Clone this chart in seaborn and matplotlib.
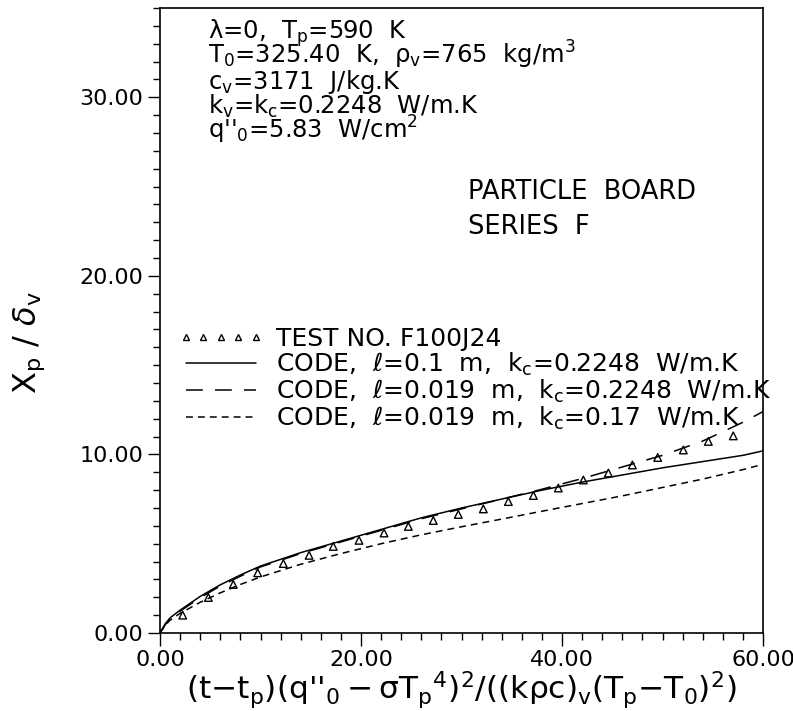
import matplotlib
matplotlib.use("Agg")
import matplotlib.pyplot as plt
from matplotlib.lines import Line2D
from matplotlib.ticker import MultipleLocator, FixedLocator, FixedFormatter
import seaborn as sns
import pandas as pd

# ---- data ----
test_x = [2.26, 4.81, 7.29, 9.72, 12.27, 14.83, 17.24, 19.80, 22.29, 24.71, 27.19, 29.68,
          32.17, 34.66, 37.15, 39.63, 42.12, 44.61, 47.00, 49.52, 52.07, 54.56, 57.04]
test_y = [1.00, 1.99, 2.72, 3.37, 3.89, 4.35, 4.85, 5.19, 5.60, 5.97, 6.30, 6.64,
          6.95, 7.36, 7.70, 8.12, 8.57, 8.96, 9.41, 9.83, 10.25, 10.73, 11.04]

code_x = [0, 0.5, 1, 2, 4, 6, 8, 10, 14, 18, 22, 26, 30, 34, 38, 42, 46, 50, 54, 58, 60]
code_l01_k2248 = [0, 0.50, 0.85, 1.28, 2.05, 2.70, 3.25, 3.75, 4.50, 5.15, 5.80, 6.45,
                  7.00, 7.50, 8.00, 8.45, 8.85, 9.25, 9.60, 9.95, 10.20]
code_l019_k2248 = [0, 0.45, 0.80, 1.22, 1.98, 2.63, 3.18, 3.70, 4.45, 5.10, 5.75, 6.40,
                   6.95, 7.50, 8.05, 8.65, 9.30, 9.95, 10.75, 11.80, 12.40]
code_l019_k17 = [0, 0.42, 0.72, 1.10, 1.72, 2.25, 2.72, 3.14, 3.85, 4.45, 5.00, 5.50,
                 5.95, 6.38, 6.82, 7.25, 7.68, 8.15, 8.62, 9.15, 9.45]

x_ticks = [0, 20, 40, 60]
x_tick_labels = ["0.00", "20.00", "40.00", "60.00"]
y_ticks = [0, 10, 20, 30]
y_tick_labels = ["0.00", "10.00", "20.00", "30.00"]

legend_labels = [
    "TEST NO. F100J24",
    r"CODE,  $\ell$=0.1  m,  k$_c$=0.2248  W/m.K",
    r"CODE,  $\ell$=0.019  m,  k$_c$=0.2248  W/m.K",
    r"CODE,  $\ell$=0.019  m,  k$_c$=0.17  W/m.K",
]
info_lines = [
    r"$\lambda$=0,  T$_p$=590  K",
    r"T$_0$=325.40  K,  $\rho_v$=765  kg/m$^3$",
    r"c$_v$=3171  J/kg.K",
    r"k$_v$=k$_c$=0.2248  W/m.K",
    r"q''$_0$=5.83  W/cm$^2$",
]
material_lines = ["PARTICLE  BOARD", "SERIES  F"]

# ---- style ----
sns.set_style("ticks")
plt.rcParams["font.family"] = ["DejaVu Sans"]
plt.rcParams["mathtext.default"] = "regular"
plt.rcParams["mathtext.fontset"] = "dejavusans"
plt.rcParams["text.color"] = "black"
plt.rcParams["axes.labelcolor"] = "black"
plt.rcParams["xtick.color"] = "black"
plt.rcParams["ytick.color"] = "black"

fig = plt.figure(figsize=(7.93, 7.11), dpi=100)
ax = fig.add_axes([0.2018, 0.1097, 0.7604, 0.879])

lw = 1.1
dash_long = (11, 8)
dash_short = (4.5, 3.3)

df_curves = pd.DataFrame({"x": code_x, "a": code_l01_k2248, "b": code_l019_k2248, "c": code_l019_k17})
sns.lineplot(data=df_curves, x="x", y="a", ax=ax, color="black", lw=lw, linestyle="-")
sns.lineplot(data=df_curves, x="x", y="b", ax=ax, color="black", lw=lw, dashes=False,
             linestyle=(0, dash_long))
sns.lineplot(data=df_curves, x="x", y="c", ax=ax, color="black", lw=lw, dashes=False,
             linestyle=(0, dash_short))

df_test = pd.DataFrame({"x": test_x, "y": test_y})
sns.scatterplot(data=df_test, x="x", y="y", ax=ax, marker="^", s=30,
                facecolors="none", edgecolor="black", linewidth=1.0, zorder=5)

ax.set_xlim(0, 60)
ax.set_ylim(0, 35)
ax.xaxis.set_major_locator(FixedLocator(x_ticks))
ax.xaxis.set_major_formatter(FixedFormatter(x_tick_labels))
ax.yaxis.set_major_locator(FixedLocator(y_ticks))
ax.yaxis.set_major_formatter(FixedFormatter(y_tick_labels))
ax.xaxis.set_minor_locator(MultipleLocator(2))
ax.yaxis.set_minor_locator(MultipleLocator(1))
ax.tick_params(which="major", direction="out", length=9, width=1.0, labelsize=16, pad=3,
               colors="black")
ax.tick_params(which="minor", direction="out", length=5, width=1.0)
for sp in ax.spines.values():
    sp.set_linewidth(1.2)
    sp.set_color("black")
    sp.set_visible(True)

ax.set_xlabel(r"(t$-$t$_p$)(q''$_0-\sigma$T$_p$$^4$)$^2$/((k$\rho$c)$_v$(T$_p$$-$T$_0$)$^2$)",
              fontsize=22.5, labelpad=0)
ax.set_ylabel(r"X$_p$ / $\mathit{\delta}_v$", fontsize=23)
ax.yaxis.set_label_coords(-0.187, 0.464)

# info text block
info_y = [0.9512, 0.9112, 0.8712, 0.8312, 0.7912]
for txt, yy in zip(info_lines, info_y):
    ax.text(0.0796, yy, txt, transform=ax.transAxes, fontsize=17.5, va="baseline", ha="left")
mat_y = [0.695, 0.639]
for txt, yy in zip(material_lines, mat_y):
    ax.text(0.511, yy, txt, transform=ax.transAxes, fontsize=18.5, va="baseline", ha="left")

handles = [
    Line2D([], [], ls="none", marker="^", mfc="none", mec="black", ms=4.5, mew=1.0),
    Line2D([], [], color="black", lw=lw, ls="-"),
    Line2D([], [], color="black", lw=lw, ls=(0, dash_long)),
    Line2D([], [], color="black", lw=lw, ls=(0, dash_short)),
]
ax.legend(handles, legend_labels, loc="upper left", bbox_to_anchor=(0.03, 0.49),
          frameon=False, fontsize=18, numpoints=5, handlelength=3.4, handletextpad=0.5,
          borderpad=0, borderaxespad=0, labelspacing=0.0)

fig.savefig("out.png", dpi=100)
